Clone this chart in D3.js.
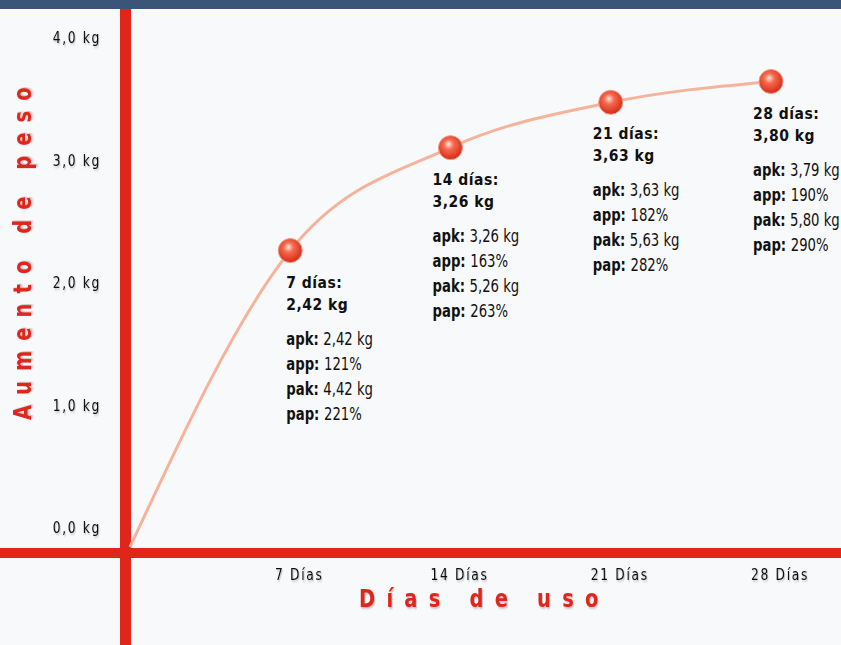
<!DOCTYPE html>
<html>
<head>
<meta charset="utf-8">
<script src="https://cdn.jsdelivr.net/npm/d3@7"></script>
<style>
  body { margin: 0; background: #f8f9fa; }
  svg { display: block; }
</style>
</head>
<body>
<div id="chart"></div>
<script>
var svgWidth = 841;
var svgHeight = 645;

// data
var days = [0, 7, 14, 21, 28];
var weight = [0, 2.42, 3.26, 3.63, 3.80];
var dayTitles = ["7 días:", "14 días:", "21 días:", "28 días:"];
var weightTitles = ["2,42 kg", "3,26 kg", "3,63 kg", "3,80 kg"];
var apk = ["2,42 kg", "3,26 kg", "3,63 kg", "3,79 kg"];
var app = ["121%", "163%", "182%", "190%"];
var pak = ["4,42 kg", "5,26 kg", "5,63 kg", "5,80 kg"];
var pap = ["221%", "263%", "282%", "290%"];
var xTicks = [7, 14, 21, 28];
var xTickLabels = ["7 Días", "14 Días", "21 Días", "28 Días"];
var yTicks = [0, 1, 2, 3, 4];
var yTickLabels = ["0,0 kg", "1,0 kg", "2,0 kg", "3,0 kg", "4,0 kg"];

var red = "#e0251a";
var cond = "'DejaVu Sans Condensed', 'DejaVu Sans', sans-serif";

var svg = d3.select("#chart")
  .append("svg")
  .attr("width", svgWidth)
  .attr("height", svgHeight);

var defs = svg.append("defs");
var grad = defs.append("radialGradient")
  .attr("id", "ball")
  .attr("cx", "45%").attr("cy", "40%").attr("r", "60%")
  .attr("fx", "42%").attr("fy", "35%");
grad.append("stop").attr("offset", "0%").attr("stop-color", "#ffe6dc");
grad.append("stop").attr("offset", "35%").attr("stop-color", "#f6694e");
grad.append("stop").attr("offset", "100%").attr("stop-color", "#d42a18");

var shadow = defs.append("filter").attr("id", "tshadow")
  .attr("x", "-10%").attr("y", "-20%").attr("width", "130%").attr("height", "150%");
shadow.append("feDropShadow").attr("dx", 1).attr("dy", 1.5)
  .attr("stdDeviation", 0.8).attr("flood-color", "#000").attr("flood-opacity", 0.25);

svg.append("rect")
  .attr("width", svgWidth).attr("height", svgHeight)
  .attr("fill", "#f8f9fa");

// top bar
svg.append("rect")
  .attr("width", svgWidth).attr("height", 9)
  .attr("fill", "#3a5577");

// scales
var x = d3.scaleLinear().domain([0, 28]).range([130, 771]);
var y = d3.scaleLinear().domain([0, 4]).range([547, 57]);

// thick red axes
svg.append("rect")
  .attr("x", x(0) - 10).attr("y", 9)
  .attr("width", 11).attr("height", svgHeight - 9)
  .attr("fill", red);
svg.append("rect")
  .attr("x", 0).attr("y", y(0) + 1)
  .attr("width", svgWidth).attr("height", 10)
  .attr("fill", red);

// y tick labels
svg.append("g").selectAll("text")
  .data(yTicks)
  .enter().append("text")
  .attr("transform", d => `translate(101, ${y(d) - 14}) scale(0.85, 1)`)
  .attr("text-anchor", "end")
  .attr("font-family", cond)
  .attr("font-size", 16)
  .attr("letter-spacing", 2)
  .attr("fill", "#111")
  .attr("filter", "url(#tshadow)")
  .text((d, i) => yTickLabels[i]);

// x tick labels
svg.append("g").selectAll("text")
  .data(xTicks)
  .enter().append("text")
  .attr("transform", d => `translate(${x(d) + 9}, 580) scale(0.85, 1)`)
  .attr("text-anchor", "middle")
  .attr("font-family", cond)
  .attr("font-size", 16)
  .attr("letter-spacing", 2)
  .attr("fill", "#111")
  .attr("filter", "url(#tshadow)")
  .text((d, i) => xTickLabels[i]);

// axis titles
svg.append("text")
  .attr("transform", "translate(359, 607) scale(0.9, 1)")
  .attr("font-family", cond)
  .attr("font-weight", "bold")
  .attr("font-size", 24)
  .attr("letter-spacing", 12.5)
  .attr("fill", red)
  .attr("filter", "url(#tshadow)")
  .text("Días de uso");

svg.append("text")
  .attr("transform", "translate(31, 420) rotate(-90) scale(0.9, 1)")
  .attr("font-family", cond)
  .attr("font-weight", "bold")
  .attr("font-size", 24)
  .attr("letter-spacing", 11.2)
  .attr("fill", red)
  .attr("filter", "url(#tshadow)")
  .text("Aumento de peso");

// curve
var pts = days.map((d, i) => [d, weight[i]]);
var line = d3.line()
  .x(d => x(d[0]))
  .y(d => y(d[1]))
  .curve(d3.curveMonotoneX);

svg.append("path")
  .datum(pts)
  .attr("d", line)
  .attr("fill", "none")
  .attr("stroke", "#f6b29a")
  .attr("stroke-width", 3);

// points
var marks = pts.slice(1);
svg.append("g").selectAll("circle")
  .data(marks)
  .enter().append("circle")
  .attr("cx", d => x(d[0]))
  .attr("cy", d => y(d[1]))
  .attr("r", 12)
  .attr("fill", "url(#ball)")
  .attr("stroke", "#f09a82")
  .attr("stroke-width", 1);

// annotations
var notes = svg.append("g").selectAll("g")
  .data(marks)
  .enter().append("g")
  .attr("transform", (d, i) => `translate(${x(d[0]) + (i === 0 ? -4 : -18)}, ${y(d[1])})`);

notes.append("text")
  .attr("y", 37)
  .attr("font-family", cond)
  .attr("font-weight", "bold")
  .attr("font-size", 15.5)
  .attr("letter-spacing", 0.5)
  .attr("fill", "#111")
  .text((d, i) => dayTitles[i]);

notes.append("text")
  .attr("y", 59)
  .attr("font-family", cond)
  .attr("font-weight", "bold")
  .attr("font-size", 15.5)
  .attr("letter-spacing", 0.5)
  .attr("fill", "#111")
  .text((d, i) => weightTitles[i]);

var rows = [["apk: ", apk], ["app: ", app], ["pak: ", pak], ["pap: ", pap]];
rows.forEach(function(r, k) {
  var t = notes.append("text")
    .attr("transform", `translate(0, ${94 + k * 25}) scale(0.84, 1)`)
    .attr("font-family", cond)
    .attr("font-size", 17.5)
    .attr("fill", "#111");
  t.append("tspan").attr("font-weight", "bold").text(r[0]);
  t.append("tspan").text((d, i) => r[1][i]);
});
</script>
</body>
</html>
